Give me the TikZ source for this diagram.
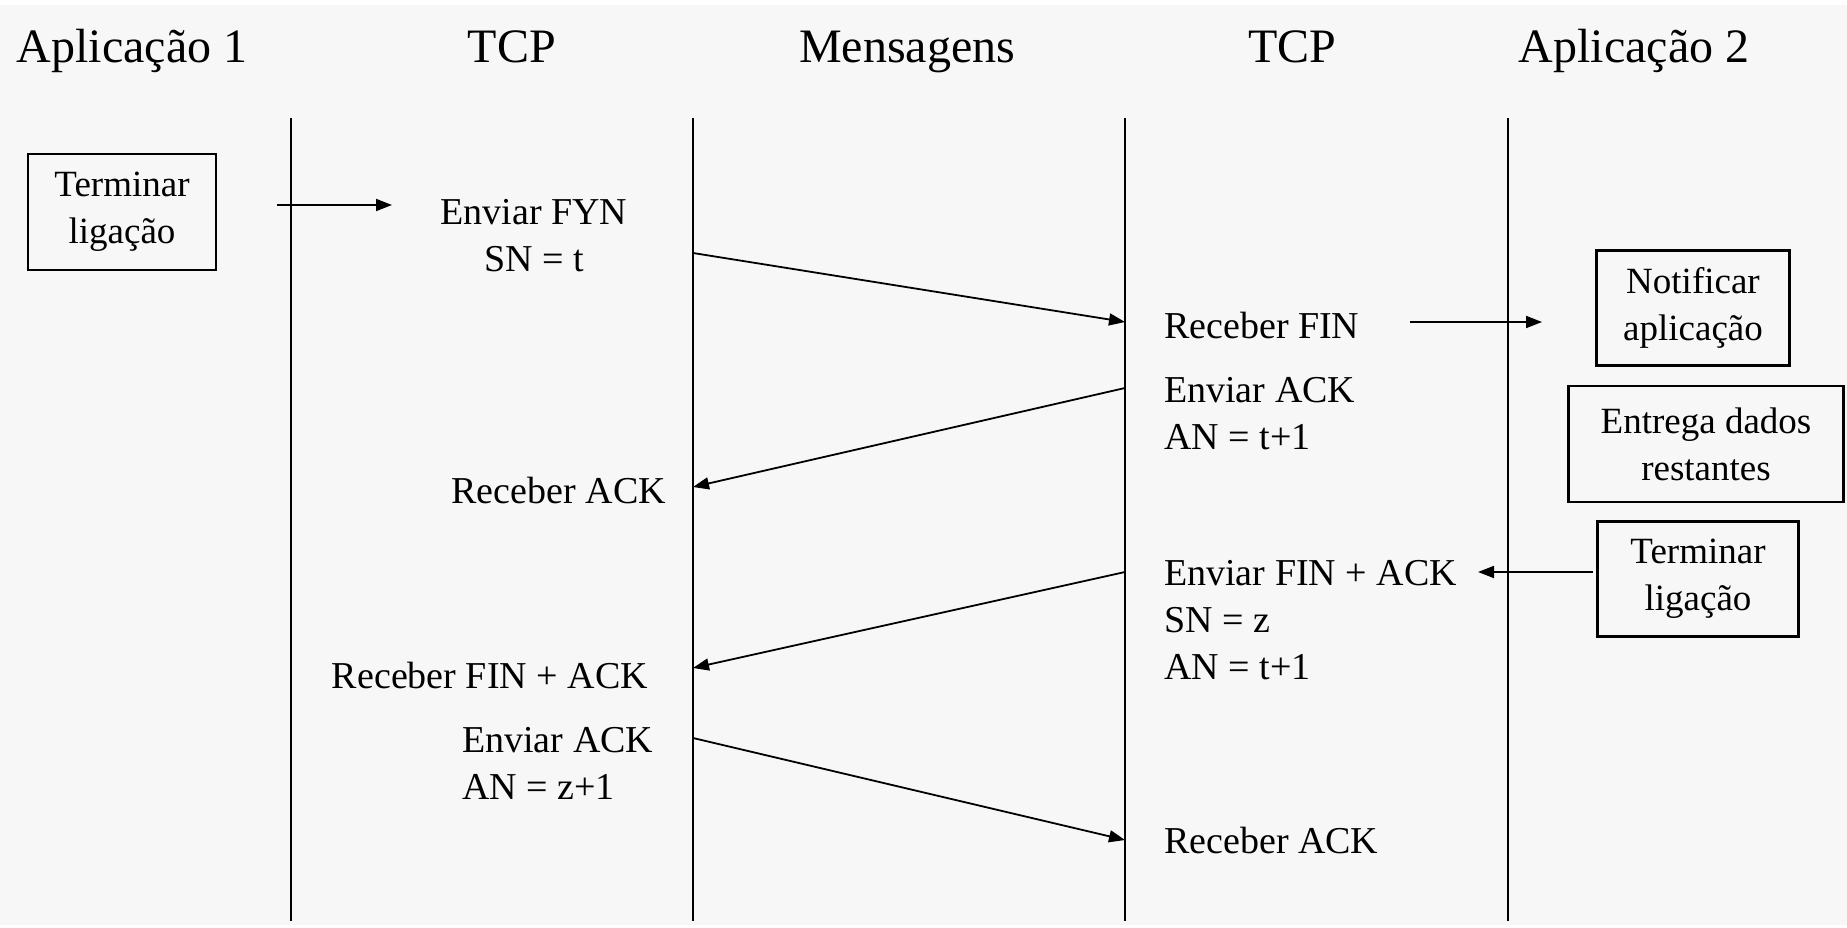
\documentclass[tikz,border=0pt]{standalone}
\usepackage{fontspec}
\setmainfont{Liberation Serif}
\usetikzlibrary{arrows.meta}
\definecolor{bg}{HTML}{F7F7F7}
\begin{document}
\begin{tikzpicture}[x=1pt,y=-1pt,
  hdr/.style={font=\fontsize{48}{58}\selectfont, inner sep=0pt, anchor=base},
  txt/.style={font=\fontsize{38}{47}\selectfont, inner sep=0pt},
  lbox/.style={draw, line width=2.2pt, font=\fontsize{37}{47}\selectfont, align=center, inner sep=0pt},
  life/.style={line width=2pt},
  msg/.style={line width=1.8pt, -{Triangle[length=16pt,width=12pt]}},
]
\useasboundingbox (0,0) rectangle (1847,928);
\fill[white] (0,0) rectangle (1847,928);
\fill[bg] (0,5) rectangle (1847,925);

% headers
\node[hdr] (h1) at (132,63) {Aplicação 1};
\node[hdr] (h2) at (512,63) {TCP};
\node[hdr] (h3) at (907,63) {Mensagens};
\node[hdr] (h4) at (1292,63) {TCP};
\node[hdr] (h5) at (1634,63) {Aplicação 2};

% lifelines
\coordinate (l1t) at (291,118); \coordinate (l1b) at (291,921);
\coordinate (l2t) at (693,118); \coordinate (l2b) at (693,921);
\coordinate (l3t) at (1125,118); \coordinate (l3b) at (1125,921);
\coordinate (l4t) at (1508,118); \coordinate (l4b) at (1508,921);
\draw[life] (l1t) -- (l1b);
\draw[life] (l2t) -- (l2b);
\draw[life] (l3t) -- (l3b);
\draw[life] (l4t) -- (l4b);

% boxes
\node[lbox, minimum width=188pt, minimum height=116pt] (term1) at (122,212) {Terminar\\ligação};
\node[lbox, minimum width=193pt, minimum height=115pt] (notif) at (1693,308) {Notificar\\aplicação};
\node[lbox, minimum width=275pt, minimum height=116pt] (entrega) at (1706,444) {Entrega dados\\restantes};
\node[lbox, minimum width=201pt, minimum height=115pt] (term2) at (1698,579) {Terminar\\ligação};

% texts
\node[txt, align=center, anchor=north] (efyn) at (534,199) {Enviar FYN\\SN = t};
\node[txt, anchor=north west] (rfin) at (1164,312) {Receber FIN};
\node[txt, align=left, anchor=north west] (eack) at (1164,377) {Enviar ACK\\AN = t+1};
\node[txt, anchor=north east] (rack1) at (666,477) {Receber ACK};
\node[txt, align=left, anchor=north west] (efinack) at (1164,560) {Enviar FIN + ACK\\SN = z\\AN = t+1};
\node[txt, anchor=north east] (rfinack) at (648,662) {Receber FIN + ACK};
\node[txt, align=left, anchor=north west] (eack2) at (462,727) {Enviar ACK\\AN = z+1};
\node[txt, anchor=north west] (rack2) at (1164,827) {Receber ACK};

% message arrows
\coordinate (m1s) at (693,253); \coordinate (m1e) at (1125,322);
\coordinate (m2s) at (1125,388); \coordinate (m2e) at (693,487);
\coordinate (m3s) at (1125,572); \coordinate (m3e) at (693,668);
\coordinate (m4s) at (693,738); \coordinate (m4e) at (1125,840);
\draw[msg] (m1s) -- (m1e);
\draw[msg] (m2s) -- (m2e);
\draw[msg] (m3s) -- (m3e);
\draw[msg] (m4s) -- (m4e);

% local arrows
\coordinate (a1s) at (277,205); \coordinate (a1e) at (392,205);
\coordinate (a2s) at (1410,322); \coordinate (a2e) at (1542,322);
\coordinate (a3s) at (1593,572); \coordinate (a3e) at (1478,572);
\draw[msg] (a1s) -- (a1e);
\draw[msg] (a2s) -- (a2e);
\draw[msg] (a3s) -- (a3e);
\end{tikzpicture}
\end{document}
